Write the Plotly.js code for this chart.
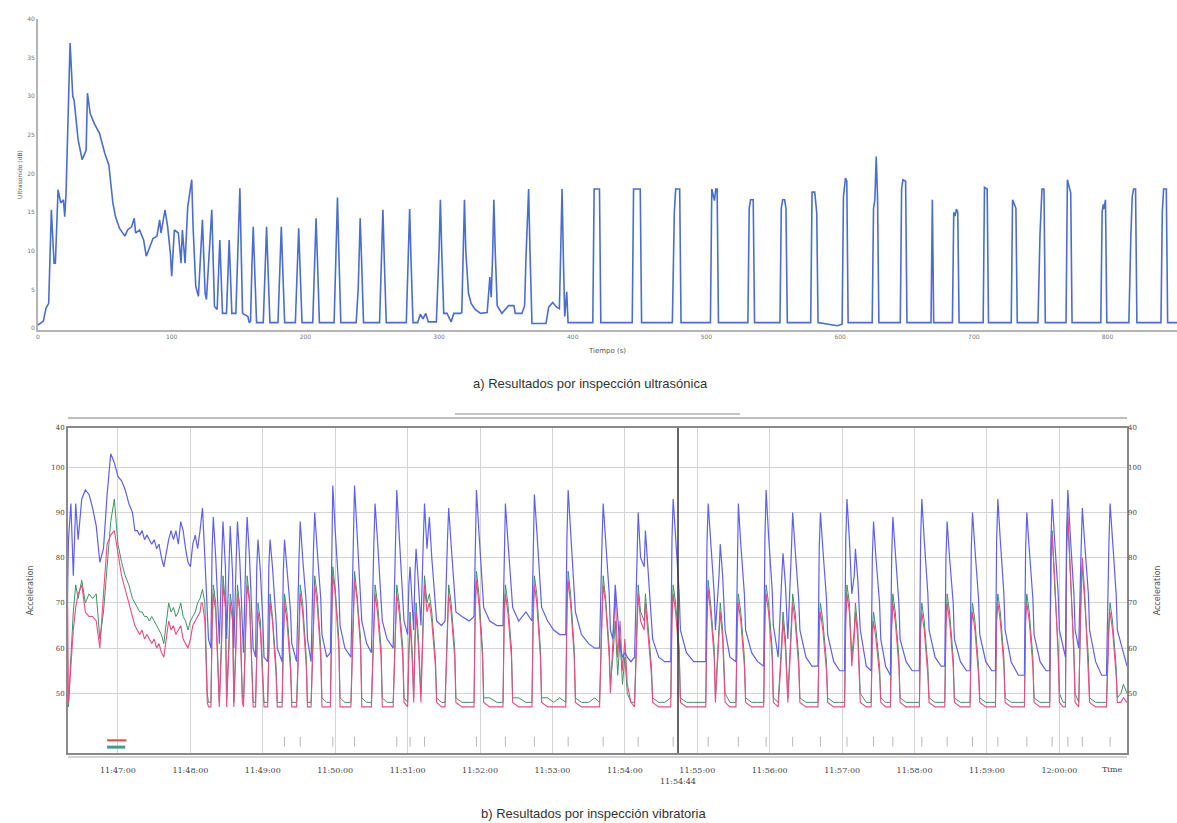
<!DOCTYPE html>
<html>
<head>
<meta charset="utf-8">
<script src="https://cdn.plot.ly/plotly-3.0.1.min.js"></script>
<style>html,body{margin:0;padding:0;background:#fff;}#chart{width:1177px;height:823px;}</style>
</head>
<body>
<div id="chart"></div>
<script>
// ---------- a) Ultrasonic inspection: time (s) and level (dB) ----------
const usTime = [0,4,6,8,10,12,13,15,17,19,20,21,24,26,27,30,33,36,37,39,42,46,50,53,56,58,61,65,67,70,72,73,76,79,81,84,86,89,91,92,95,97,99,100,102,105,107,108,110,112,115,116,118,120,123,125,126,130,132,134,136,138,141,143,145,148,151,153,157,158,
159,160,161,162,163.5,
168.5,170,171,172,173.5,
179.5,181,182,183,184.5,
192.5,194,195,196,197.5,
205.5,207,208,209,210.5,
221.5,223,224,225,226.5,
238,239.5,240.5,241,242,243.5,
255.5,257,258,259,260.5,
275.5,277,278,279,280.5,
284,286,288,290,292,
298,300,301,302,303.5,306,309,311,316,
317,318,319,320,321,322,324,327,331,336,338,339,
340,341,342,343.5,347,352,356,357,362,364,
365,367,368,369.5,374,380,382,385,388,390,
391,392,393,394,395.5,396.5,
415,416,420,421,
444.5,445.5,450.5,451.5,
474.5,476,477,480,481,
503,504,505,506,507,508,509,
531,532,533,535,536,
555,556,557,558.5,559.5,560.5,
578,579,581,582.5,583.5,590,598,
601.5,602.5,604,605,606,
624,625,626,627,628,629,
645,646,647,649,650,
668,669,670,
684,685,686,687,688,689,
707,708,710,711,
728,729,730.5,731.5,732.5,
748,749.5,750.5,751,752.5,753.5,
769,770,771,772.5,773.5,
795,796,796.8,797.2,798.5,799.5,
816,817.5,818.5,819.5,821,822,
840,841,842,844,845,852];
const usLevel = [0.4,0.9,2.6,3.2,15.3,8.4,8.4,17.9,16.2,16.6,14.4,17.5,36.9,30,29.5,24.4,21.8,23,30.4,27.8,26.5,25.2,22.6,21.1,16.2,14.4,12.9,11.9,12.7,13.1,14.2,12.3,12.7,11.4,9.3,10.6,11.6,11.9,14,12.3,15.3,13.1,9.7,6.7,12.7,12.3,8.4,12.7,8.4,15.7,19.2,13.1,5.4,4.1,14,4.5,3.7,15.3,2.8,2.4,11.4,1.9,1.9,11.4,1.9,1.9,18.1,1.9,1.5,0.7,
0.9,8,13.1,8,0.7,
0.7,8,13.1,8,0.7,
0.7,8,13.1,8,0.7,
0.7,8,12.9,8,0.7,
0.7,9,14.2,9,0.7,
0.7,10,16.9,10,0.7,
0.7,5,11,14.2,9,0.7,
0.7,9,15.3,9,0.7,
0.7,9,15.4,9,0.7,
0.7,1.8,1.2,1.9,0.8,
0.8,10,16.6,10,1.9,1.9,0.8,1.9,1.9,
2,10,16.6,10,6.6,4.5,3.2,2.4,1.9,2,6.6,4,
9,16.6,10,2.9,1.9,2.9,2.9,1.9,1.9,2.9,
9,18,10,0.6,0.6,0.6,2.7,3.3,2.7,2.5,
10,18,9,1.5,4.7,0.7,
0.7,18,18,0.7,
0.7,18,18,0.7,
0.7,15,18,18,0.7,
0.7,18,17,16.5,18,18,0.7,
0.7,15.5,16.6,16.6,0.7,
0.7,15.5,16.6,16.6,15.5,0.7,
0.7,17.6,17.6,15,0.7,0.5,0.3,
0.5,17,19.4,19,0.7,
0.7,15.5,16.6,22.2,17,0.7,
0.7,18,19.2,19,0.7,
0.7,16.6,0.7,
0.7,15,14.5,15.4,15,0.7,
0.7,18.2,18,0.7,
0.7,16.6,16,15.5,0.7,
0.7,12,17,18,18,0.7,
0.7,19.2,18.5,17.5,0.7,
0.7,15,16,15.4,16.6,0.7,
0.7,12,17,18,18,0.7,
0.7,15,18,18,0.7,0.7];
const usXTicks = [0,100,200,300,400,500,600,700,800];
const usYTicks = [0,5,10,15,20,25,30,35,40];

// ---------- b) Vibration inspection: seconds after 11:46:00 and accelerations ----------
const vibSec = [18,19,21,23,25,27,30,33,36,39,42,45,48,51,54,57,60,63,66,69,72,74,76,78,80,82,84,86,88,90,92,94,96,98,100,102,104,106,108,110,112,114,116,118,120,122,124,126,128,
129,130,132,134,135,
137,138,139,141,143,144,
146,147,149,150,
152,153,155,156,
158,159,161,163,164,
166,167,169,171,172,174,
175,176,178,180,181,184,
185,186,188,191,192,196,
197,198,200,203,204,208,
210,211,213,216,217,220,
222,223,225,228,229,233,236,
237,238,240,243,244,248,253,
255,256,258,261,262,266,270,
272,273,275,278,279,283,288,
290,291,293,296,297,300,
301,302,304,305,
306,307,309,311,
313,314,
316,318,320,323,324,328,
331,333,334,336,339,340,345,351,355,
356,357,359,362,363,368,374,379,
380,381,383,386,387,392,398,403,
404,405,407,410,411,416,421,426,431,
432,433,435,438,439,444,450,455,459,
461,462,464,467,468,
470,472,474,476,478,480,482,485,488,
490,491,493,
496,497,499,502,503,508,513,518,
519,520,522,525,526,531,537,543,547,
548,549,551,554,555,
558,559,561,563,567,572,
573,574,576,579,580,585,590,595,
596,597,599,602,603,607,
610,611,613,615,
618,619,621,624,625,630,635,640,
641,642,644,647,648,653,658,662,
663,664,666,668,
670,671,673,675,680,684,
685,686,688,691,692,696,700,
701,702,704,707,708,713,718,724,
725,726,728,731,732,737,742,745,
746,747,749,752,753,758,763,766,
767,768,770,773,774,779,784,787,
788,789,791,794,795,800,806,811,
812,813,815,818,819,824,829,832,
833,834,836,839,840,843,845,
846,847,849,852,853,
856,858,859,861,864,865,870,875,879,
881,882,884,887,888,891,893,896];
const accBlue = [69,84,92,76,92,84,93,95,94,91,87,79,82,94,103,101,98,97,95,92,90,86,86,85,86,84,85,84,83,84,82,83,80,78,81,84,86,84,86,83,88,86,82,79,78,83,85,82,86,
88,91,80,65,62,
60,82,89,80,68,61,
80,88,78,62,
78,87,76,60,
80,88,79,66,59,
82,89,80,68,60,58,
78,84,77,66,58,57,
78,84,78,66,60,57,
77,84,78,68,61,57,
80,88,80,70,62,57,
82,90,82,71,63,58,59,
85,96,86,73,65,60,58,
84,96,86,73,66,61,59,
83,92,84,72,66,62,60,
84,95,85,72,66,63,
74,78,70,64,
76,82,74,65,
84,92,
82,89,80,70,66,65,
66,84,91,83,73,68,67,66,67,
85,95,86,74,69,66,65,65,
84,92,84,74,69,66,68,66,
84,94,86,74,69,66,64,63,63,
85,95,86,74,68,63,61,60,60,
83,92,84,72,64,
62,74,66,60,58,59,58,57,58,
82,90,80,
78,86,78,68,62,58,57,57,
84,93,84,72,64,59,57,57,57,
83,92,84,72,64,
76,83,76,64,58,57,
82,92,83,72,64,59,57,56,
84,95,85,73,65,58,
76,81,74,62,
82,90,82,71,64,58,56,56,
82,90,82,71,63,57,55,55,
84,93,84,72,
76,82,75,64,56,55,
80,88,80,70,62,56,54,
80,89,81,70,62,57,55,55,
84,93,84,72,64,58,56,56,
80,88,80,70,62,57,55,55,
82,90,82,71,63,57,55,55,
84,93,84,72,64,57,54,54,
82,90,82,71,63,57,55,55,
84,93,84,72,64,60,58,
86,95,85,72,64,
60,82,91,83,72,64,57,54,54,
83,92,84,72,64,61,59,56];
const accGreen = [48,47,58,68,74,71,75,70,72,71,72,62,68,78,88,93,83,79,76,74,71,70,69,68,68,67,67,66,67,66,65,64,63,61,65,70,68,69,67,68,70,67,66,64,66,67,68,70,71,
72,73,70,50,48,
48,66,74,70,56,48,
64,76,70,49,
62,72,68,48,
64,74,69,50,48,
66,76,71,55,48,48,
62,70,66,52,48,48,
62,72,67,56,48,48,
62,72,68,57,48,48,
64,74,70,58,48,48,
66,76,72,60,49,48,48,
68,78,73,62,49,48,48,
68,77,72,62,49,48,48,
66,74,70,60,49,48,48,
66,74,70,60,49,48,
60,68,58,49,
62,70,62,50,
68,76,
70,72,68,58,49,48,
48,68,74,70,60,49,48,48,48,
70,77,72,60,49,49,48,48,
68,74,70,60,49,49,48,48,
68,76,72,60,49,49,48,49,48,
70,77,72,60,49,48,48,49,48,
68,76,71,60,52,
58,66,54,62,52,58,50,48,48,
66,74,68,
66,72,66,56,49,48,48,49,
68,74,70,60,49,48,48,48,48,
68,75,70,60,49,
64,70,64,50,48,48,
66,72,68,58,49,48,48,48,
68,74,70,60,49,48,
62,68,62,49,
66,72,68,58,49,48,48,48,
66,70,66,57,49,48,48,48,
68,74,70,58,
64,70,64,50,48,48,
64,68,64,56,49,48,48,
66,72,68,58,49,48,48,48,
66,70,66,56,49,48,48,48,
66,72,68,58,49,48,48,48,
66,70,66,56,49,48,48,48,
68,72,68,58,49,48,48,48,
68,72,68,58,49,48,48,48,
80,86,74,60,50,48,48,
82,88,76,60,50,
48,72,78,70,58,49,48,48,48,
66,70,66,56,49,50,52,50];
const accPink = [79,48,56,64,69,72,74,68,67,67,66,60,72,83,85,86,81,76,73,70,67,65,64,63,64,62,63,62,61,62,60,61,59,58,62,66,64,65,63,64,65,62,61,60,62,65,66,67,68,
70,70,66,48,47,
47,64,72,68,52,47,
62,74,69,47,
60,70,66,47,
62,72,68,48,47,
64,74,70,52,47,47,
60,68,64,50,47,47,
60,70,66,54,47,47,
60,70,66,55,47,47,
62,72,68,56,47,47,
64,74,70,58,47,47,47,
66,76,72,60,47,47,47,
66,75,71,60,47,47,47,
64,72,68,58,47,47,47,
64,72,68,58,48,47,
58,66,56,48,
60,68,60,48,
66,74,
68,70,66,56,48,47,
47,66,72,68,58,48,47,47,47,
68,75,70,58,48,47,47,47,
66,72,68,58,48,47,47,47,
66,74,70,58,48,47,47,47,47,
68,75,70,58,48,47,47,47,47,
66,74,70,58,50,
60,72,58,66,55,62,52,48,47,
64,72,66,
64,70,64,54,48,47,47,47,
66,72,68,58,48,47,47,47,47,
66,73,68,58,48,
62,68,62,48,47,47,
64,70,66,56,48,47,47,47,
66,72,68,58,48,47,
60,66,60,48,
64,70,66,56,48,47,47,47,
64,68,64,55,48,47,47,47,
66,72,68,56,
62,68,62,48,47,47,
62,66,62,54,48,47,47,
64,70,66,56,48,47,47,47,
64,68,64,54,48,47,47,47,
64,70,66,56,48,47,47,47,
64,68,64,54,48,47,47,47,
66,70,66,56,48,47,47,47,
66,70,66,56,48,47,47,47,
82,85,76,58,48,47,47,
84,90,78,58,48,
47,74,80,72,56,48,47,47,47,
64,68,64,54,48,48,49,48];
const eventSec = [198,211,238,256,291,302,314,357,381,405,433,462,491,520,549,574,597,619,642,664,686,702,726,747,768,789,813,834,847,859,882];
const redMarkSec = [51,67];
const greenMarkSec = [51,66];
const cursorSec = 524;           // 11:54:44
const vibYTicks = [50,60,70,80,90,100,108.7];
const vibYTickText = ['50','60','70','80','90','100','40'];
const vibStartSec = 18.6, vibEndSec = 896;

// ---------- helpers ----------
function pad(n){ return (n < 10 ? '0' : '') + n; }
function toTime(s){
  const tot = 11*3600 + 46*60 + s;
  const h = Math.floor(tot/3600), m = Math.floor((tot % 3600)/60);
  const sec = tot - h*3600 - m*60;
  const sInt = Math.floor(sec), frac = sec - sInt;
  let str = '2019-01-01 ' + pad(h) + ':' + pad(m) + ':' + pad(sInt);
  if (frac > 1e-9) str += '.' + Math.round(frac*10);
  return str;
}
const vibTime = vibSec.map(toTime);

const W = 1177, H = 823;
const px = x => x / W;
const py = y => (H - y) / H;

const tickFont = {family:'DejaVu Sans, sans-serif', size:6, color:'#777'};
const vibTickFont = {family:'DejaVu Serif, serif', size:8, color:'#444'};
const vibYFont = {family:'DejaVu Serif, serif', size:7, color:'#444'};

const traces = [
  {x: usTime, y: usLevel, type:'scatter', mode:'lines', xaxis:'x', yaxis:'y',
   line:{color:'#4a6ed0', width:1.6}},
  {x: vibTime, y: accGreen, type:'scatter', mode:'lines', xaxis:'x2', yaxis:'y2',
   line:{color:'#3d9460', width:1}},
  {x: vibTime, y: accPink, type:'scatter', mode:'lines', xaxis:'x2', yaxis:'y2',
   line:{color:'#ec4b86', width:1.1}},
  {x: vibTime, y: accBlue, type:'scatter', mode:'lines', xaxis:'x2', yaxis:'y2',
   line:{color:'#5f5ff2', width:1.2}},
  {x: eventSec.map(toTime), y: eventSec.map(() => 39.3), type:'scatter', mode:'markers', xaxis:'x2', yaxis:'y3',
   marker:{symbol:'line-ns-open', size:7, color:'#b8b8b8', line:{color:'#b8b8b8', width:1}}},
  {x: redMarkSec.map(toTime), y: [39.6, 39.6], type:'scatter', mode:'lines', xaxis:'x2', yaxis:'y3',
   line:{color:'#e8443a', width:2}},
  {x: greenMarkSec.map(toTime), y: [38.1, 38.1], type:'scatter', mode:'lines', xaxis:'x2', yaxis:'y3',
   line:{color:'#3aa08a', width:3}}
];

const layout = {
  width: W, height: H,
  margin: {l:0, r:0, t:0, b:0},
  paper_bgcolor:'#ffffff', plot_bgcolor:'#ffffff',
  showlegend:false,
  font:{family:'DejaVu Sans, sans-serif'},
  xaxis: {
    domain:[px(38), 1], anchor:'y', range:[0, 852],
    tickvals: usXTicks, tickfont: tickFont, ticks:'',
    showgrid:false, zeroline:false, showline:true, linecolor:'#b5b5b5', linewidth:2,
    title:{text:'Tiempo (s)', font:{size:7, color:'#555'}, standoff:9}
  },
  yaxis: {
    domain:[py(330), py(19)], anchor:'x', range:[-0.25, 40],
    tickvals: usYTicks, tickfont: tickFont, ticks:'',
    showgrid:false, zeroline:false, showline:true, linecolor:'#b5b5b5', linewidth:2,
    title:{text:'Ultrasonido (dB)', font:{size:6, color:'#555'}, standoff:4}
  },
  xaxis2: {
    domain:[px(68), px(1127)], anchor:'y2', type:'date',
    range:[toTime(vibStartSec), toTime(vibEndSec)],
    tick0:'2019-01-01 11:47:00', dtick:60000, tickformat:'%H:%M:%S',
    tickfont: vibTickFont, ticks:'', ticklabelstandoff:8,
    showgrid:true, gridcolor:'#d4d4d4', gridwidth:1, zeroline:false,
    showline:true, mirror:true, linecolor:'#8a8a8a', linewidth:2
  },
  yaxis2: {
    domain:[py(753), py(428)], anchor:'x2', range:[36.8, 108.7],
    tickvals: vibYTicks, ticktext: vibYTickText, tickfont: vibYFont, ticks:'',
    showgrid:true, gridcolor:'#d4d4d4', zeroline:false,
    showline:true, mirror:true, linecolor:'#8a8a8a', linewidth:2,
    title:{text:'Acceleration', font:{size:8, color:'#555'}, standoff:16}
  },
  yaxis3: {
    overlaying:'y2', side:'right', anchor:'x2', range:[36.8, 108.7],
    tickvals: vibYTicks, ticktext: vibYTickText, tickfont: vibYFont, ticks:'',
    showgrid:false, zeroline:false, showline:false,
    title:{text:'Acceleration', font:{size:8, color:'#555'}, standoff:14}
  },
  shapes: [
    {type:'line', xref:'x2', yref:'y2', x0:toTime(cursorSec), x1:toTime(cursorSec), y0:36.8, y1:108.7,
     line:{color:'#333333', width:1.5}},
    {type:'line', xref:'paper', yref:'paper', x0:px(68), x1:px(1127), y0:py(418), y1:py(418),
     line:{color:'#a8a8a8', width:1.5}},
    {type:'line', xref:'paper', yref:'paper', x0:px(455), x1:px(740), y0:py(414), y1:py(414),
     line:{color:'#8a8a8a', width:1}},
    {type:'line', xref:'paper', yref:'paper', x0:px(68), x1:px(1127), y0:py(757), y1:py(757),
     line:{color:'#a8a8a8', width:1}}
  ],
  annotations: [
    {text:'a) Resultados por inspección ultrasónica', xref:'paper', yref:'paper', x:px(590), y:py(383),
     xanchor:'center', yanchor:'middle', showarrow:false, font:{family:'Liberation Sans, Arial, sans-serif', size:13, color:'#333'}},
    {text:'b) Resultados por inspección vibratoria', xref:'paper', yref:'paper', x:px(594), y:py(813),
     xanchor:'center', yanchor:'middle', showarrow:false, font:{family:'Liberation Sans, Arial, sans-serif', size:13, color:'#333'}},
    {text:'Time', xref:'paper', yref:'paper', x:px(1112), y:py(769),
     xanchor:'center', yanchor:'middle', showarrow:false, font:{family:'DejaVu Serif, serif', size:8, color:'#444'}},
    {text:'11:54:44', xref:'x2', yref:'paper', x:toTime(cursorSec), y:py(781),
     xanchor:'center', yanchor:'middle', showarrow:false, font:{family:'DejaVu Serif, serif', size:8, color:'#444'}}
  ]
};

Plotly.newPlot('chart', traces, layout, {staticPlot:true, displayModeBar:false});
</script>
</body>
</html>
